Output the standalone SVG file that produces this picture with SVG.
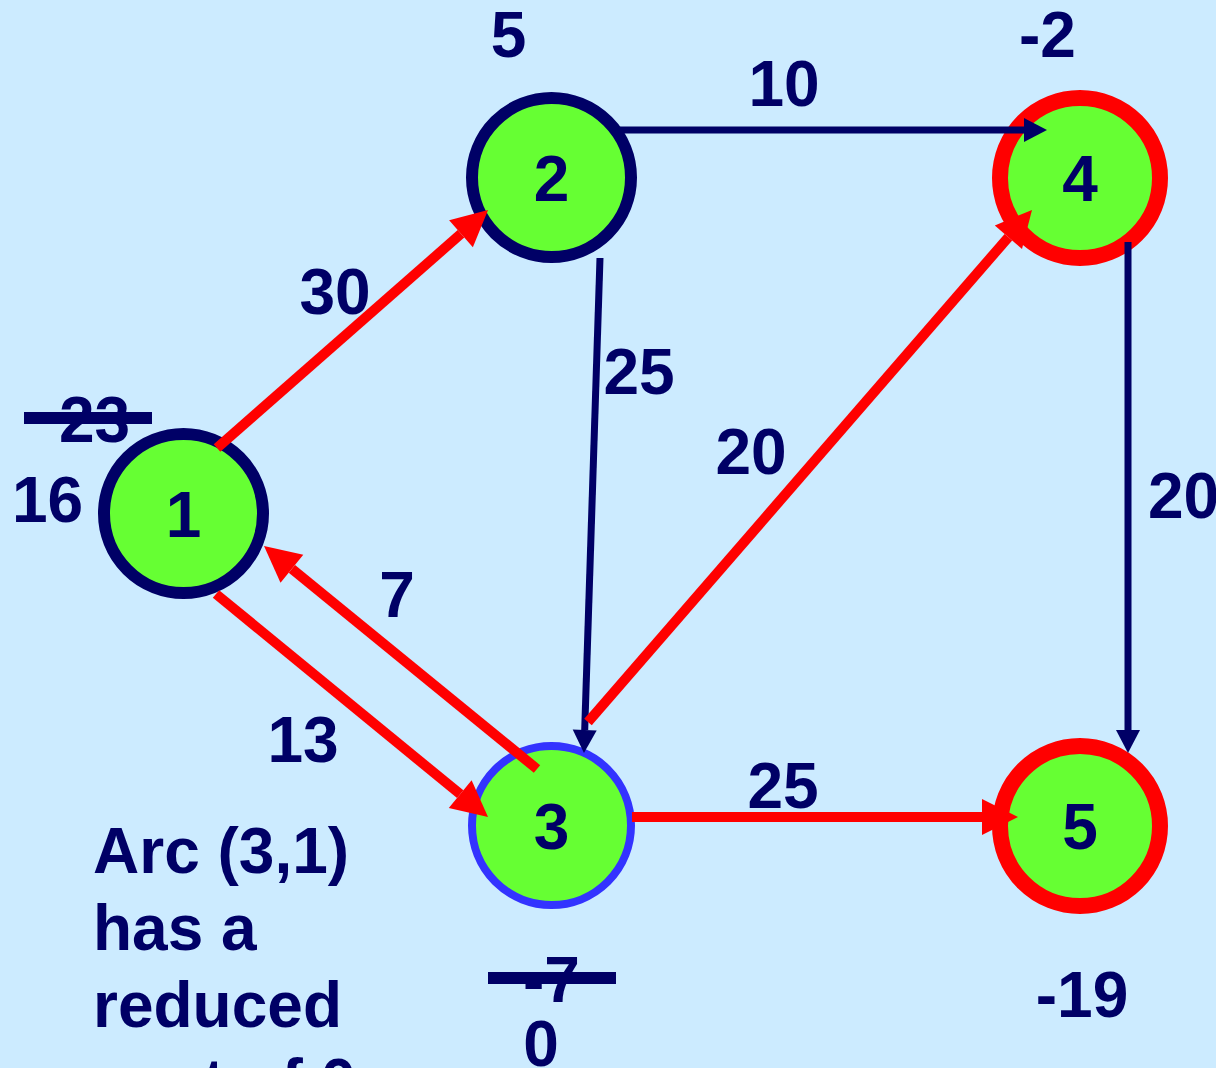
<svg xmlns="http://www.w3.org/2000/svg" width="1216" height="1068" viewBox="0 0 1216 1068">
<style>
text{font-family:"Liberation Sans",Arial,sans-serif;font-weight:bold;font-size:64px;fill:#000066}
.c{text-anchor:middle}
.node{fill:#66FF33}
.navy{stroke:#000066;stroke-width:12}
.red{stroke:#FF0000;stroke-width:16}
.blue{stroke:#3333FF;stroke-width:8}
.er{stroke:#FF0000;stroke-width:10;fill:none;marker-end:url(#hr)}
.en{stroke:#000066;stroke-width:7;fill:none;marker-end:url(#hn)}
.bar{fill:#000066}
</style>
<defs>
<marker id="hr" markerUnits="userSpaceOnUse" viewBox="0 -18 36 36" markerWidth="36" markerHeight="36" refX="0" refY="0" orient="auto" overflow="visible">
<path d="M0,-18 L36,0 L0,18 z" fill="#FF0000"/>
</marker>
<marker id="hn" markerUnits="userSpaceOnUse" viewBox="0 -12 23 24" markerWidth="23" markerHeight="24" refX="0" refY="0" orient="auto" overflow="visible">
<path d="M0,-12 L23,0 L0,12 z" fill="#000066"/>
</marker>
</defs>
<rect width="1216" height="1068" fill="#CCEBFF"/>
<g id="node1"><circle class="node navy" cx="183.5" cy="513.5" r="79.5"/><text class="c" x="183.5" y="536.5">1</text></g>
<g id="node2"><circle class="node navy" cx="551.5" cy="177.5" r="79.5"/><text class="c" x="551.5" y="200.5">2</text></g>
<g id="node3"><circle class="node blue" cx="551.5" cy="825.5" r="79.5"/><text class="c" x="551.5" y="848.5">3</text></g>
<g id="node4"><circle class="node red" cx="1080" cy="178" r="80"/><text class="c" x="1080" y="201">4</text></g>
<g id="node5"><circle class="node red" cx="1080" cy="826" r="80"/><text class="c" x="1080" y="849">5</text></g>
<g id="connectors">
<line class="en" x1="620" y1="130" x2="1024" y2="130"/>
<line class="en" x1="600" y1="258" x2="584.7" y2="730"/>
<line class="en" x1="1128" y1="242" x2="1128" y2="730"/>
<line class="er" x1="217" y1="448" x2="461" y2="233.8"/>
<line class="er" x1="216" y1="594" x2="460.2" y2="794.2"/>
<line class="er" x1="537" y1="769" x2="291.9" y2="568.8"/>
<line class="er" x1="588" y1="722" x2="1008.4" y2="237.2"/>
<line class="er" x1="632" y1="817" x2="982" y2="817"/>
</g>
<g id="labels">
<text class="c" x="508.5" y="57">5</text>
<text x="1019" y="57">-2</text>
<text class="c" x="784" y="106">10</text>
<text class="c" x="335" y="314">30</text>
<text class="c" x="639" y="394">25</text>
<text class="c" x="751" y="474">20</text>
<text x="1148" y="518">20</text>
<text class="c" x="397" y="617">7</text>
<text class="c" x="303" y="762">13</text>
<text class="c" x="783" y="808">25</text>
<text class="c" x="1082" y="1017">-19</text>
<text x="12" y="522">16</text>
<text x="59" y="442">23</text>
<rect class="bar" x="24" y="412" width="128" height="12"/>
<text x="523" y="1002">-7</text>
<rect class="bar" x="488" y="972" width="128" height="12"/>
<text class="c" x="541" y="1066">0</text>
<text x="93" y="873">Arc (3,1)</text>
<text x="93" y="950">has a</text>
<text x="93" y="1027">reduced</text>
<text x="93" y="1104">cost of 0</text>
</g>
</svg>
